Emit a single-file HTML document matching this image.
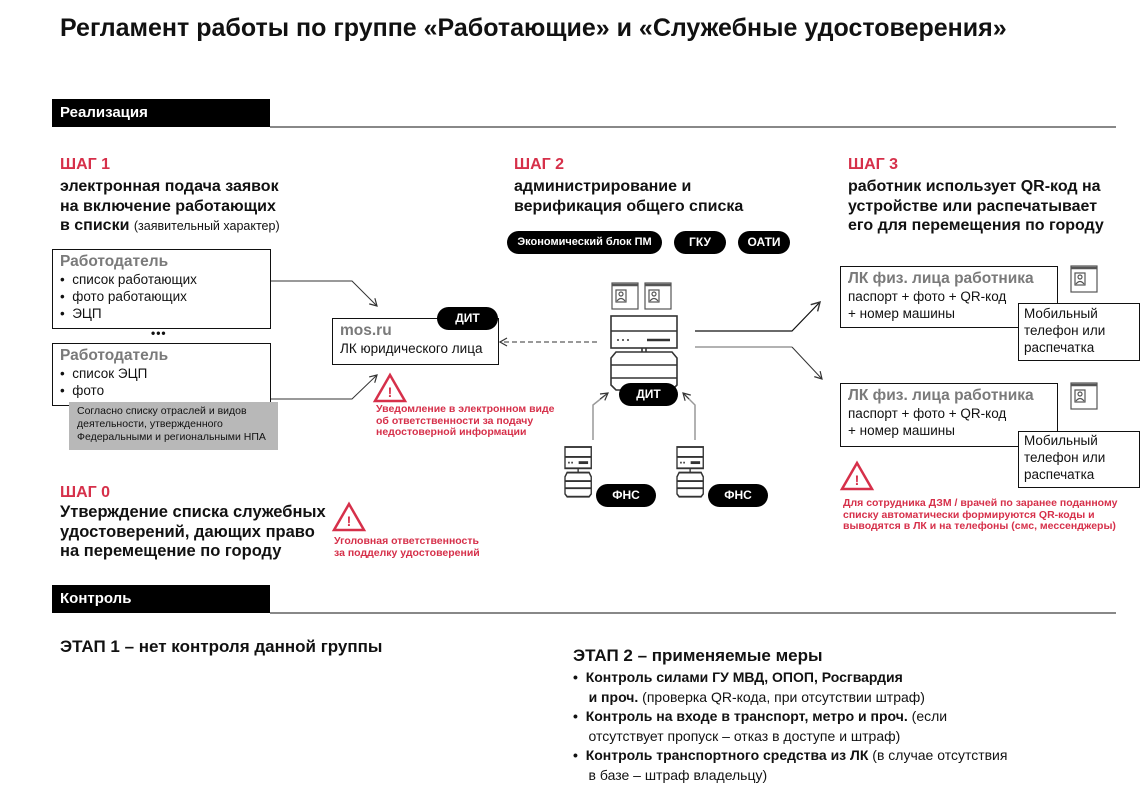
<!DOCTYPE html>
<html><head><meta charset="utf-8"><style>
body{margin:0;width:1146px;height:798px;background:#fff;position:relative;overflow:hidden;font-family:"Liberation Sans","DejaVu Sans",sans-serif;color:#111}
.t{position:absolute;white-space:nowrap}
.b{font-weight:bold}
.red{color:#d6304a}
.h{font-size:16px;font-weight:bold;line-height:19.5px}
.bar{position:absolute;background:#000;color:#fff;font-weight:bold;font-size:15px;line-height:28px;padding-left:8px;box-sizing:border-box}
.box{position:absolute;border:1.5px solid #111;box-sizing:border-box;background:#fff}
.pill{position:absolute;background:#000;color:#fff;font-weight:bold;border-radius:12px;text-align:center;font-size:12px;line-height:23px}
.gh{color:#7a7a7a;font-weight:bold;font-size:15.5px}
.s13{font-size:13.5px;line-height:17px}
.rs{font-size:10.5px;font-weight:bold;line-height:11.5px;color:#d6304a}
svg{position:absolute;left:0;top:0}
</style></head><body>
<svg width="1146" height="798" viewBox="0 0 1146 798">
<defs><marker id="a" markerWidth="10" markerHeight="10" refX="8" refY="5" orient="auto"><path d="M1,1 L8,5 L1,9" fill="none" stroke="#333" stroke-width="1.2"/></marker>
<g id="tri"><path d="M16,2 L31,28 L1,28 Z" fill="none" stroke="#d6304a" stroke-width="2.5" stroke-linejoin="miter"/><text x="16" y="24" font-size="14" font-weight="bold" fill="#d6304a" text-anchor="middle" font-family="Liberation Sans">!</text></g>
<g id="srv" fill="#fff" stroke="#333" stroke-width="1.3"><rect x="0" y="0" width="25" height="15"/><line x1="0" y1="7" x2="25" y2="7"/><line x1="3" y1="11" x2="9" y2="11" stroke-dasharray="1.5 1.5"/><line x1="13" y1="11" x2="22" y2="11" stroke-width="2"/><line x1="12.5" y1="15" x2="12.5" y2="18"/><path d="M2,18 L23,18 L25,21 L25,33 L23,35 L2,35 L0,33 L0,21 Z"/><line x1="0" y1="24" x2="25" y2="24"/><line x1="0" y1="29" x2="25" y2="29"/></g>
<g id="ph" fill="#fff" stroke="#555" stroke-width="1.2"><rect x="0" y="0" width="26" height="26"/><line x1="0" y1="2" x2="26" y2="2" stroke-width="2.5"/><rect x="4" y="7" width="10" height="12"/><circle cx="9" cy="11" r="2"/><path d="M5,18 Q9,13 13,18"/></g>
</defs>
<line x1="270" y1="127" x2="1116" y2="127" stroke="#111" stroke-width="1"/>
<line x1="270" y1="613" x2="1116" y2="613" stroke="#111" stroke-width="1"/>
<path d="M271,281 L352,281 L377,306" fill="none" stroke="#333" stroke-width="1" marker-end="url(#a)"/>
<path d="M271,399 L352,399 L377,375" fill="none" stroke="#333" stroke-width="1" marker-end="url(#a)"/>
<path d="M597,342 L500,342" fill="none" stroke="#333" stroke-width="1" stroke-dasharray="5 3" marker-end="url(#a)"/>
<path d="M695,331 L792,331 L820,302" fill="none" stroke="#111" stroke-width="1.2" marker-end="url(#a)"/>
<path d="M695,347 L792,347" fill="none" stroke="#999" stroke-width="1.5"/>
<path d="M792,347 L822,379" fill="none" stroke="#333" stroke-width="1" marker-end="url(#a)"/>
<path d="M593,440 L593,405 L608,393" fill="none" stroke="#999" stroke-width="1.5"/>
<path d="M600,399 L608,393" fill="none" stroke="#333" stroke-width="1" marker-end="url(#a)"/>
<path d="M695,440 L695,405 L683,393" fill="none" stroke="#999" stroke-width="1.5"/>
<path d="M689,399 L683,393" fill="none" stroke="#333" stroke-width="1" marker-end="url(#a)"/>
<use href="#ph" x="612" y="283"/><use href="#ph" x="645" y="283"/>
<g fill="#fff" stroke="#333" stroke-width="1.6"><rect x="611" y="316" width="66" height="32"/><line x1="611" y1="331" x2="677" y2="331"/><line x1="617" y1="340" x2="632" y2="340" stroke-dasharray="2 3"/><line x1="647" y1="340" x2="670" y2="340" stroke-width="2.5"/><line x1="642" y1="348" x2="642" y2="352"/><line x1="646" y1="348" x2="646" y2="352"/><path d="M616,352 L672,352 L677,358 L677,385 L672,390 L616,390 L611,385 L611,358 Z"/><line x1="611" y1="365" x2="677" y2="365"/><line x1="611" y1="378" x2="677" y2="378"/></g>
<g transform="translate(565,447) scale(1.05,1.42)"><use href="#srv"/></g>
<g transform="translate(677,447) scale(1.05,1.42)"><use href="#srv"/></g>
<use href="#ph" x="1071" y="266"/><use href="#ph" x="1071" y="383"/>
<use href="#tri" x="374" y="373"/>
<use href="#tri" x="333" y="502"/>
<use href="#tri" x="841" y="461"/>
</svg>

<div class="t b" style="left:60px;top:12px;font-size:25px;line-height:32px">Регламент работы по группе «Работающие» и «Служебные удостоверения»</div>
<div class="bar" style="left:52px;top:99px;width:218px;height:28px">Реализация</div>
<div class="bar" style="left:52px;top:585px;width:218px;height:28px">Контроль</div>

<div class="t h red" style="left:60px;top:155px">ШАГ 1</div>
<div class="t h" style="left:60px;top:177px">электронная подача заявок<br>на включение работающих<br>в списки <span style="font-weight:normal;font-size:12.5px">(заявительный характер)</span></div>

<div class="box" style="left:52px;top:249px;width:219px;height:80px"></div>
<div class="t" style="left:60px;top:253px"><div class="gh">Работодатель</div><div class="s13">•&nbsp; список работающих<br>•&nbsp; фото работающих<br>•&nbsp; ЭЦП</div></div>
<div class="t b" style="left:151px;top:326px;font-size:12px;letter-spacing:1px">•••</div>
<div class="box" style="left:52px;top:343px;width:219px;height:63px"></div>
<div class="t" style="left:60px;top:347px"><div class="gh">Работодатель</div><div class="s13">•&nbsp; список ЭЦП<br>•&nbsp; фото</div></div>
<div class="t" style="left:69px;top:402px;width:209px;height:48px;background:#b8b8b8;font-size:10.5px;line-height:13px;padding:3px 0 0 8px;box-sizing:border-box">Согласно списку отраслей и видов<br>деятельности, утвержденного<br>Федеральными и региональными НПА</div>

<div class="box" style="left:332px;top:318px;width:167px;height:47px"></div>
<div class="t" style="left:340px;top:322px"><div class="gh">mos.ru</div><div class="s13">ЛК юридического лица</div></div>
<div class="pill" style="left:437px;top:307px;width:61px">ДИТ</div>
<div class="t rs" style="left:376px;top:404px">Уведомление в электронном виде<br>об ответственности за подачу<br>недостоверной информации</div>

<div class="t h red" style="left:514px;top:155px">ШАГ 2</div>
<div class="t h" style="left:514px;top:177px">администрирование и<br>верификация общего списка</div>
<div class="pill" style="left:507px;top:231px;width:155px;font-size:11px">Экономический блок ПМ</div>
<div class="pill" style="left:674px;top:231px;width:52px">ГКУ</div>
<div class="pill" style="left:738px;top:231px;width:52px">ОАТИ</div>
<div class="pill" style="left:619px;top:383px;width:59px">ДИТ</div>
<div class="pill" style="left:596px;top:484px;width:60px">ФНС</div>
<div class="pill" style="left:708px;top:484px;width:60px">ФНС</div>

<div class="t h red" style="left:848px;top:155px">ШАГ 3</div>
<div class="t h" style="left:848px;top:177px">работник использует QR-код на<br>устройстве или распечатывает<br>его для перемещения по городу</div>

<div class="box" style="left:840px;top:266px;width:218px;height:62px"></div>
<div class="t" style="left:848px;top:270px"><div class="gh">ЛК физ. лица работника</div><div class="s13">паспорт + фото + QR-код<br>+ номер машины</div></div>
<div class="box" style="left:1018px;top:303px;width:122px;height:58px"></div>
<div class="t s13" style="left:1024px;top:305px">Мобильный<br>телефон или<br>распечатка</div>

<div class="box" style="left:840px;top:383px;width:218px;height:64px"></div>
<div class="t" style="left:848px;top:387px"><div class="gh">ЛК физ. лица работника</div><div class="s13">паспорт + фото + QR-код<br>+ номер машины</div></div>
<div class="box" style="left:1018px;top:431px;width:122px;height:57px"></div>
<div class="t s13" style="left:1024px;top:432px">Мобильный<br>телефон или<br>распечатка</div>
<div class="t rs" style="left:843px;top:498px">Для сотрудника ДЗМ / врачей по заранее поданному<br>списку автоматически формируются QR-коды и<br>выводятся в ЛК и на телефоны (смс, мессенджеры)</div>

<div class="t h red" style="left:60px;top:483px">ШАГ 0</div>
<div class="t b" style="left:60px;top:503px;font-size:16.5px;line-height:19.5px">Утверждение списка служебных<br>удостоверений, дающих право<br>на перемещение по городу</div>
<div class="t rs" style="left:334px;top:536px">Уголовная ответственность<br>за подделку удостоверений</div>

<div class="t b" style="left:60px;top:637px;font-size:17px">ЭТАП 1 – нет контроля данной группы</div>
<div class="t b" style="left:573px;top:646px;font-size:17px">ЭТАП 2 – применяемые меры</div>
<div class="t" style="left:573px;top:668px;font-size:14px;line-height:19.5px">
<b>•</b>&nbsp; <b>Контроль силами ГУ МВД, ОПОП, Росгвардия</b><br>
&nbsp;&nbsp;&nbsp; <b>и проч.</b> (проверка QR-кода, при отсутствии штраф)<br>
<b>•</b>&nbsp; <b>Контроль на входе в транспорт, метро и проч.</b> (если<br>
&nbsp;&nbsp;&nbsp; отсутствует пропуск – отказ в доступе и штраф)<br>
<b>•</b>&nbsp; <b>Контроль транспортного средства из ЛК</b> (в случае отсутствия<br>
&nbsp;&nbsp;&nbsp; в базе – штраф владельцу)</div>
</body></html>
